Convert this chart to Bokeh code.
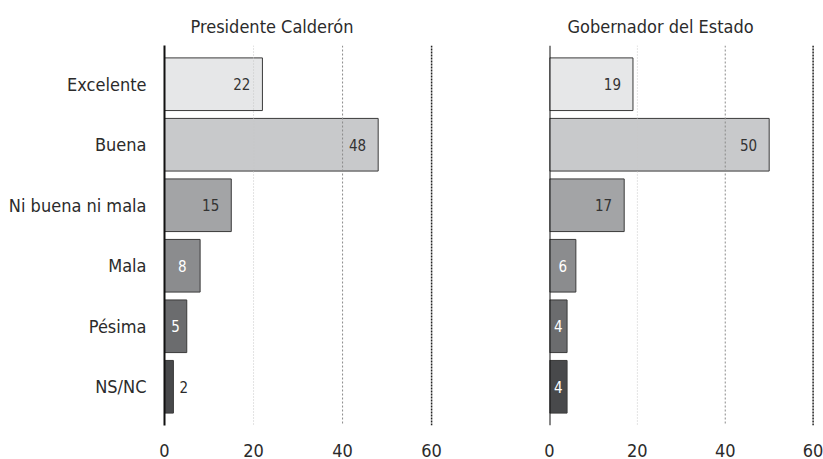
from bokeh.plotting import figure
from bokeh.models import FactorRange, Span, Range1d, FixedTicker, ColumnDataSource, Title
from bokeh.layouts import row
from bokeh.embed import file_html
from bokeh.resources import INLINE
from bokeh.core.properties import value

# Opinion ratings (percent) for each official
categories = ["Excelente", "Buena", "Ni buena ni mala", "Mala", "Pésima", "NS/NC"]
presidente = [22, 48, 15, 8, 5, 2]
gobernador = [19, 50, 17, 6, 4, 4]
titles = ["Presidente Calderón", "Gobernador del Estado"]
x_ticks = [0, 20, 40, 60]
grid_ticks = [20, 40, 60]

bar_colors = ["#e6e7e8", "#c8c9cb", "#a3a4a6", "#8b8c8e", "#6b6c6e", "#48494b"]
label_colors = ["#333333", "#333333", "#333333", "#ffffff", "#ffffff", "#ffffff"]
grid_styles = {20: ("#c8c8c8", "1 2", 1), 40: ("#8a8a8a", "2 2", 1), 60: ("#222222", "2 1", 1.5)}

FONT = "DejaVu Sans Condensed"
TEXT = "#2b2b2b"


def make_panel(vals, title, show_labels, width, border_left, border_right, x_end, title_offset):
    y_range = FactorRange(*reversed(categories), range_padding=0.14,
                          range_padding_units="absolute")
    p = figure(y_range=y_range, x_range=Range1d(0, x_end), width=width, height=459,
               output_backend="svg", toolbar_location=None,
               min_border_left=border_left, min_border_right=border_right,
               min_border_top=45, min_border_bottom=31)
    p.outline_line_color = None
    p.xgrid.visible = False
    p.ygrid.visible = False

    t = Title(text=title, align="left", offset=title_offset, text_font=FONT,
              text_font_size="18px", text_font_style="normal", text_color=TEXT,
              standoff=18)
    p.add_layout(t, "above")

    for gx in grid_ticks:
        c, dash, w = grid_styles[gx]
        p.add_layout(Span(location=gx, dimension="height", line_color=c,
                          line_dash=dash, line_width=w))

    # label placement: inside-right for long bars, centered for short, outside for tiny
    lx, loff, lalign, lcol = [], [], [], []
    for i, v in enumerate(vals):
        if v >= 10:
            lx.append(v); loff.append(-12); lalign.append("right"); lcol.append(label_colors[i])
        elif v >= 4:
            lx.append(v / 2); loff.append(0); lalign.append("center"); lcol.append(label_colors[i])
        else:
            lx.append(v); loff.append(6); lalign.append("left"); lcol.append(TEXT)

    src = ColumnDataSource(dict(cat=categories, val=vals, color=bar_colors,
                                lx=lx, loff=loff, lalign=lalign, lcol=lcol,
                                txt=[str(v) for v in vals]))
    p.hbar(y="cat", left=0, right="val", height=0.87, source=src,
           fill_color="color", line_color="#3a3a3a", line_width=1)
    p.text(x="lx", y="cat", text="txt", x_offset="loff", text_align="lalign",
           text_baseline="middle", text_color="lcol", source=src,
           text_font=value(FONT), text_font_size="15px")

    p.xaxis.ticker = FixedTicker(ticks=x_ticks)
    p.xaxis.axis_line_color = None
    p.xaxis.major_tick_line_color = None
    p.xaxis.minor_tick_line_color = None
    p.xaxis.major_label_standoff = 12
    p.xaxis.major_label_text_font = FONT
    p.xaxis.major_label_text_font_size = "18px"
    p.xaxis.major_label_text_color = TEXT

    if show_labels:
        p.yaxis.axis_line_color = "#111111"
        p.yaxis.axis_line_width = 2
        p.yaxis.major_tick_line_color = None
        p.yaxis.minor_tick_line_color = None
        p.yaxis.major_label_standoff = 12
        p.yaxis.major_label_text_font = FONT
        p.yaxis.major_label_text_font_size = "18px"
        p.yaxis.major_label_text_color = TEXT
    else:
        # no category labels here: just the baseline at zero
        p.yaxis.visible = False
        p.add_layout(Span(location=0, dimension="height", line_color="#111111",
                          line_width=2))
    return p


left = make_panel(presidente, titles[0], True, 460, 164, 20, 62, 26)
right = make_panel(gobernador, titles[1], False, 363, 89, 6, 61, 18)

layout = row(left, right)
open("out.html", "w").write(file_html(layout, INLINE))
